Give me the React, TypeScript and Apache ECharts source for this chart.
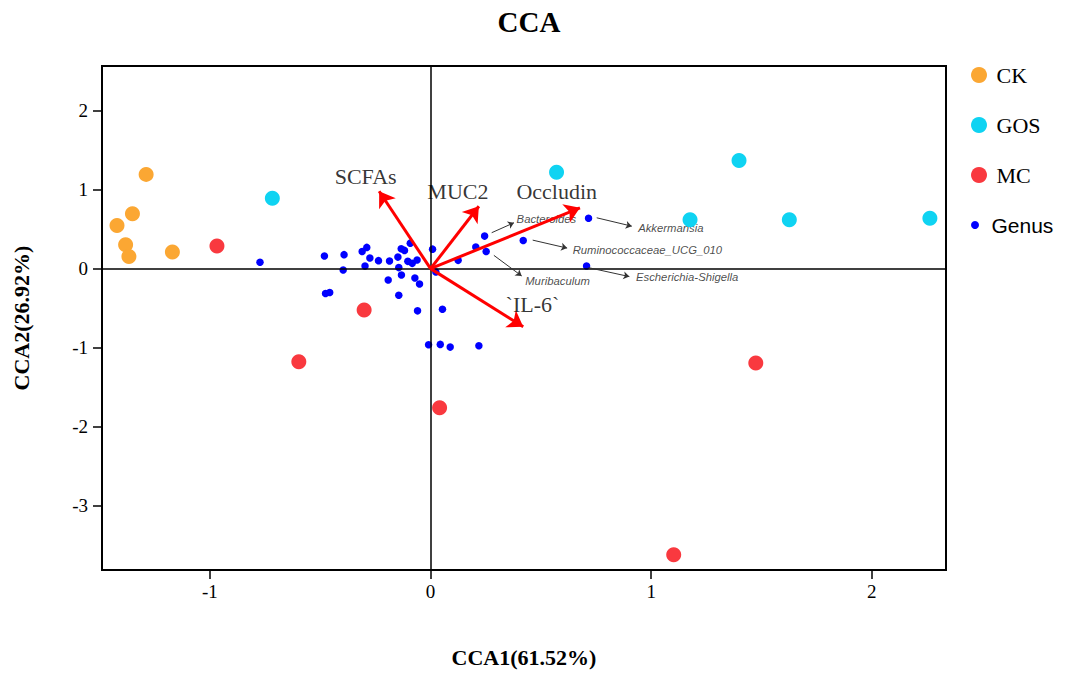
import React, { useEffect, useRef } from 'react';
import * as echarts from 'echarts';

const xTicks = [-1, 0, 1, 2];
const yTicks = [-3, -2, -1, 0, 1, 2];

const ckPoints = [[-1.289, 1.194], [-1.351, 0.694], [-1.421, 0.547], [-1.382, 0.303], [-1.367, 0.155], [-1.17, 0.21]];
const gosPoints = [[-0.717, 0.892], [0.571, 1.22], [1.398, 1.371], [1.176, 0.619], [1.626, 0.619], [2.263, 0.639]];
const mcPoints = [[-0.968, 0.286], [-0.301, -0.523], [-0.597, -1.179], [0.041, -1.764], [1.474, -1.196], [1.102, -3.624]];
const genusPoints = [
  [-0.773, 0.08], [-0.481, 0.159], [-0.392, 0.177], [-0.396, -0.018], [-0.31, 0.218],
  [-0.289, 0.269], [-0.275, 0.134], [-0.297, 0.033], [-0.236, 0.101], [-0.186, 0.096],
  [-0.148, 0.146], [-0.133, 0.252], [-0.118, 0.231], [-0.092, 0.323], [-0.144, 0.013],
  [-0.103, 0.092], [-0.083, 0.067], [-0.061, 0.109], [0.009, 0.247], [-0.192, -0.144],
  [-0.132, -0.081], [-0.071, -0.119], [-0.05, -0.194], [-0.144, -0.337], [-0.476, -0.316],
  [-0.457, -0.303], [-0.059, -0.535], [0.054, -0.514], [-0.009, -0.965], [0.044, -0.96],
  [0.089, -0.994], [0.219, -0.977], [0.024, -0.043], [0.125, 0.105], [0.205, 0.273],
  [0.245, 0.412], [0.252, 0.218], [0.42, 0.357], [0.716, 0.639], [0.707, 0.033],
];

const envNames = ['SCFAs', 'MUC2', 'Occludin', '`IL-6`'];
const envVectors = [[-0.233, 0.98], [0.219, 0.79], [0.677, 0.77], [0.42, -0.737]];
const envLabelPos = [[-0.294, 1.165], [0.124, 0.98], [0.572, 0.976], [0.462, -0.451]];

const genusNames = ['Bacteroides', 'Akkermansia', 'Ruminococcaceae_UCG_010', 'Muribaculum', 'Escherichia-Shigella'];
const genusArrowFrom = [[0.277, 0.455], [0.753, 0.644], [0.463, 0.361], [0.287, 0.168], [0.715, 0.013]];
const genusArrowTo = [[0.378, 0.581], [0.912, 0.538], [0.619, 0.26], [0.413, -0.093], [0.901, -0.101]];
const genusLabelPos = [[0.39, 0.631], [0.941, 0.509], [0.644, 0.235], [0.429, -0.157], [0.931, -0.106]];

const SERIF = '"Liberation Serif", "Times New Roman", serif';
const SANS = '"Liberation Sans", Arial, sans-serif';

export default function App() {
  const ref = useRef<HTMLDivElement>(null);
  useEffect(() => {
    if (!ref.current) return;
    const chart = echarts.init(ref.current, null, { renderer: 'svg' });
    const axisCommon = {
      type: 'value',
      axisLine: { show: true, onZero: false, lineStyle: { color: '#000', width: 2 } },
      axisTick: { show: true, inside: false, length: 9, lineStyle: { color: '#000', width: 1.5 } },
      axisLabel: { color: '#000', fontFamily: SERIF, fontSize: 19 },
      splitLine: { show: false },
      nameLocation: 'middle',
      nameTextStyle: { fontFamily: SERIF, fontWeight: 'bold', fontSize: 22, color: '#000' },
    };
    chart.setOption({
      animation: false,
      backgroundColor: '#fff',
      title: {
        text: 'CCA', left: 524, top: 2, textAlign: 'center',
        textStyle: { fontFamily: SERIF, fontWeight: 'bold', fontSize: 29, color: '#000' },
      },
      grid: { left: 102, top: 66, right: 119, bottom: 101, show: true, borderColor: '#000', borderWidth: 2, backgroundColor: 'transparent' },
      xAxis: {
        ...axisCommon,
        min: -1.489, max: 2.336,
        name: 'CCA1(61.52%)', nameGap: 76,
        axisTick: { ...axisCommon.axisTick, customValues: xTicks },
        axisLabel: { ...axisCommon.axisLabel, customValues: xTicks, margin: 12 },
      },
      yAxis: {
        ...axisCommon,
        min: -3.818, max: 2.567,
        name: 'CCA2(26.92%)', nameGap: 70, nameRotate: 90,
        axisTick: { ...axisCommon.axisTick, customValues: yTicks },
        axisLabel: { ...axisCommon.axisLabel, customValues: yTicks, margin: 14 },
      },
      legend: [
        {
          orient: 'vertical', left: 966, top: 58, itemWidth: 25, itemHeight: 16, itemGap: 26,
          icon: 'circle',
          textStyle: { fontFamily: SERIF, fontSize: 22, color: '#000', lineHeight: 24 },
          data: ['CK', 'GOS', 'MC'],
        },
        {
          orient: 'vertical', left: 966, top: 208, itemWidth: 23, itemHeight: 8,
          icon: 'circle',
          textStyle: { fontFamily: SANS, fontSize: 21, color: '#000', lineHeight: 24 },
          data: ['Genus'],
        },
      ],
      series: [
        {
          type: 'scatter', name: 'axes-zero', data: [], silent: true,
          markLine: {
            silent: true, symbol: ['none', 'none'], label: { show: false },
            lineStyle: { color: '#000', width: 1.5, type: 'solid' },
            data: [{ xAxis: 0 }, { yAxis: 0 }],
          },
        },
        {
          type: 'scatter', name: 'Genus', data: genusPoints, symbolSize: 7.5,
          itemStyle: { color: '#0000FF', opacity: 1 }, z: 3,
        },
        {
          type: 'scatter', name: 'genus-labels', z: 4, silent: true,
          data: genusNames.map((n, i) => ({ name: n, value: genusLabelPos[i] })),
          symbolSize: 0,
          label: {
            show: true, position: 'right', distance: 0, formatter: '{b}',
            fontFamily: SANS, fontStyle: 'italic', fontSize: 11.3, color: '#1a1a1a',
            textBorderWidth: 0,
          },
          markLine: {
            silent: true, symbol: ['none', 'arrow'], symbolSize: 6, label: { show: false },
            lineStyle: { color: '#333', width: 1, type: 'solid' },
            data: genusArrowFrom.map((f, i) => [{ coord: f }, { coord: genusArrowTo[i] }]),
          },
        },
        {
          type: 'scatter', name: 'CK', data: ckPoints, symbolSize: 15, itemStyle: { color: '#FBA733', opacity: 1 }, z: 5,
        },
        {
          type: 'scatter', name: 'GOS', data: gosPoints, symbolSize: 15, itemStyle: { color: '#0FD3F2', opacity: 1 }, z: 5,
        },
        {
          type: 'scatter', name: 'MC', data: mcPoints, symbolSize: 15, itemStyle: { color: '#F9393F', opacity: 1 }, z: 5,
        },
        {
          type: 'scatter', name: 'env-labels', z: 6, silent: true,
          data: envNames.map((n, i) => ({ name: n, value: envLabelPos[i] })),
          symbolSize: 0,
          label: {
            show: true, position: 'inside', formatter: '{b}',
            fontFamily: SERIF, fontSize: 22, color: '#000', textBorderWidth: 0,
          },
          markLine: {
            silent: true, symbol: ['none', 'arrow'], symbolSize: 15, label: { show: false },
            lineStyle: { color: '#FF0000', width: 3, type: 'solid' },
            data: envVectors.map((v) => [{ coord: [0, 0] }, { coord: v }]),
          },
        },
      ],
    });
    return () => chart.dispose();
  }, []);
  return <div ref={ref} style={{ position: 'fixed', left: 0, top: 0, width: 1065, height: 673 }} />;
}
